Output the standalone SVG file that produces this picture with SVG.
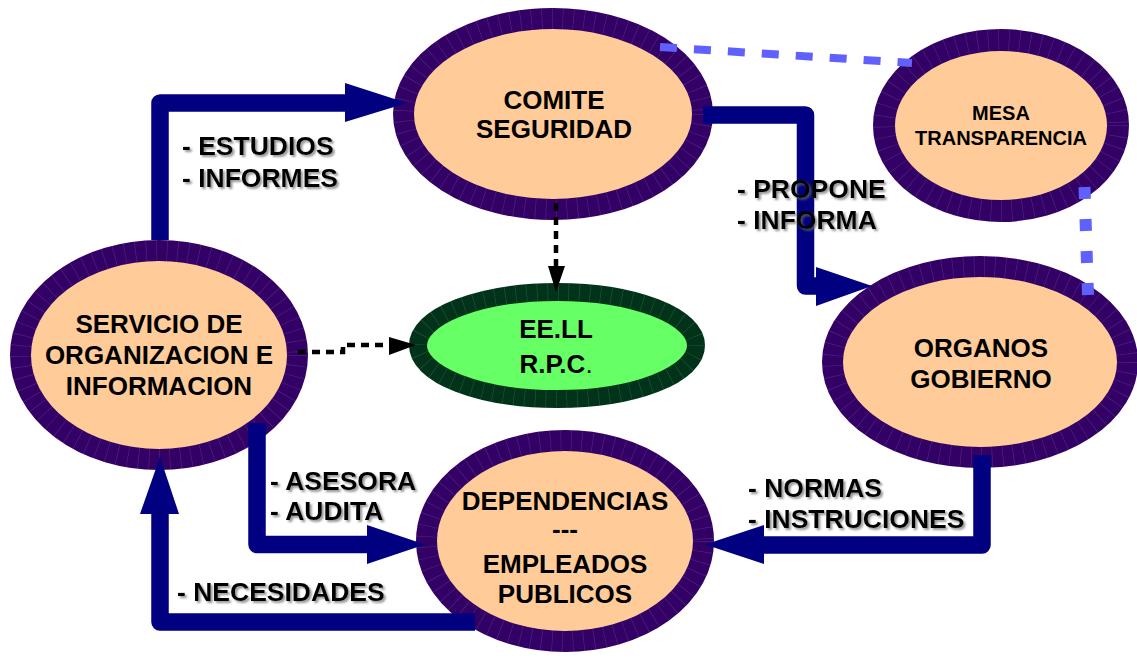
<svg xmlns="http://www.w3.org/2000/svg" width="1137" height="664" viewBox="0 0 1137 664">
<defs>
<style>
.node{fill:#FFCC99;stroke:#330066;}
.tick{fill:none;stroke:#8a70b8;stroke-width:21;stroke-dasharray:0.6 10;opacity:0.35;}
.green{fill:#66FF66;stroke:#00331A;stroke-width:18;}
.gtick{fill:none;stroke:#6f9a7c;stroke-width:18;stroke-dasharray:0.6 10;opacity:0.35;}
.nt{font-family:"Liberation Sans",Arial,sans-serif;font-weight:bold;font-size:26px;fill:#000;text-anchor:middle;}
.lbl{font-family:"Liberation Sans",Arial,sans-serif;font-weight:bold;font-size:26.5px;fill:#000;filter:url(#sh);}
.bar{fill:none;stroke:#000080;stroke-width:17.5;stroke-linejoin:round;}
.head{fill:#000080;}
.dash{fill:none;stroke:#000;stroke-width:4.5;stroke-dasharray:8 6;}
.blue{fill:none;stroke:#6060FF;}
</style>
<filter id="sh" x="-10%" y="-30%" width="130%" height="170%">
<feDropShadow dx="2" dy="2" stdDeviation="0.8" flood-color="#666" flood-opacity="0.7"/>
</filter>
</defs>
<rect width="1137" height="664" fill="#fff"/>

<g id="comite">
<ellipse class="node" cx="553" cy="114" rx="149.5" ry="95.5" stroke-width="21"/>
<ellipse class="tick" cx="553" cy="114" rx="149.5" ry="95.5"/>
<text class="nt" x="554" y="109">COMITE</text>
<text class="nt" x="554" y="138">SEGURIDAD</text>
</g>

<g id="mesa">
<ellipse class="node" cx="1001" cy="125.5" rx="117" ry="85.5" stroke-width="22"/>
<ellipse class="tick" cx="1001" cy="125.5" rx="117" ry="85.5" style="stroke-width:22"/>
<text class="nt" x="1001" y="120" style="font-size:20px">MESA</text>
<text class="nt" x="1001" y="145" style="font-size:20px">TRANSPARENCIA</text>
</g>

<g id="organos">
<ellipse class="node" cx="980" cy="362" rx="147.5" ry="95.5" stroke-width="21"/>
<ellipse class="tick" cx="980" cy="362" rx="147.5" ry="95.5"/>
<text class="nt" x="981" y="357">ORGANOS</text>
<text class="nt" x="981" y="388">GOBIERNO</text>
</g>

<g id="servicio">
<ellipse class="node" cx="159" cy="355" rx="138.5" ry="104.5" stroke-width="21"/>
<ellipse class="tick" cx="159" cy="355" rx="138.5" ry="104.5"/>
<text class="nt" x="159" y="333">SERVICIO DE</text>
<text class="nt" x="159" y="364">ORGANIZACION E</text>
<text class="nt" x="159" y="395">INFORMACION</text>
</g>

<g id="eell">
<ellipse class="green" cx="557" cy="345.5" rx="139" ry="53.5"/>
<ellipse class="gtick" cx="557" cy="345.5" rx="139" ry="53.5"/>
<text class="nt" x="556" y="338">EE.LL</text>
<text class="nt" x="556" y="373">R.P.C<tspan font-weight="normal">.</tspan></text>
</g>

<g id="dependencias">
<ellipse class="node" cx="565" cy="541" rx="138.5" ry="100.5" stroke-width="21"/>
<ellipse class="tick" cx="565" cy="541" rx="138.5" ry="100.5"/>
<text class="nt" x="565" y="510">DEPENDENCIAS</text>
<text class="nt" x="565" y="538">---</text>
<text class="nt" x="565" y="573">EMPLEADOS</text>
<text class="nt" x="565" y="603">PUBLICOS</text>
</g>

<g id="connectors">
<path class="bar" d="M160,240 V103 H347"/>
<polygon class="head" points="345,83 407,103 345,122"/>
<path class="bar" d="M703,115 H805.5 V286 H818"/>
<polygon class="head" points="816,267 872,286 816,306"/>
<path class="bar" d="M982,455 V545 H762"/>
<polygon class="head" points="764,525 705,544.5 764,564"/>
<path class="bar" d="M257,423 V544.5 H369"/>
<polygon class="head" points="367,525 425,544.5 367,564"/>
<path class="bar" d="M475,622 H160 V512"/>
<polygon class="head" points="140,514 160,457 179,514"/>
<line class="blue" x1="660" y1="47" x2="912" y2="63" stroke-width="8" stroke-dasharray="17 17"/>
<line class="blue" x1="1084.5" y1="187" x2="1088" y2="295" stroke-width="12" stroke-dasharray="12 20"/>
<path class="dash" d="M556,203 V268"/>
<polygon points="548,266 556,292 565,266" fill="#000"/>
<path class="dash" d="M298,352 H343 V345 H390"/>
<polygon points="389,337 416,345 389,355" fill="#000"/>
</g>

<g id="labels">
<text class="lbl" x="182" y="155">- ESTUDIOS</text>
<text class="lbl" x="182" y="187">- INFORMES</text>
<text class="lbl" x="737" y="198">- PROPONE</text>
<text class="lbl" x="737" y="229">- INFORMA</text>
<text class="lbl" x="270" y="490">- ASESORA</text>
<text class="lbl" x="270" y="520">- AUDITA</text>
<text class="lbl" x="748" y="497">- NORMAS</text>
<text class="lbl" x="748" y="528">- INSTRUCIONES</text>
<text class="lbl" x="177" y="601">- NECESIDADES</text>
</g>
</svg>
